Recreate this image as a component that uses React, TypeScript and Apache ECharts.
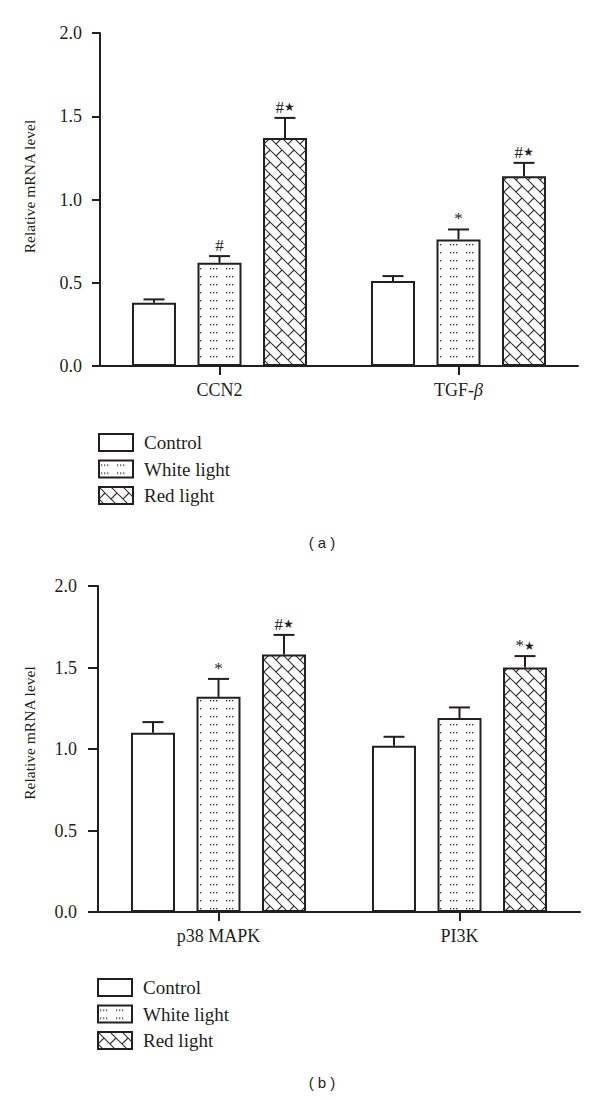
import React, { useEffect, useRef } from "react";
import * as echarts from "echarts";

// ---------- data ----------
const seriesNames = ["Control", "White light", "Red light"];

const categoriesA = ["CCN2", "TGF-β"];
const controlA = [0.38, 0.51];
const controlErrA = [0.02, 0.03];
const whiteA = [0.62, 0.76];
const whiteErrA = [0.04, 0.06];
const redA = [1.37, 1.14];
const redErrA = [0.12, 0.08];
const controlMarksA = ["", ""];
const whiteMarksA = ["#", "*"];
const redMarksA = ["#★", "#★"];

const categoriesB = ["p38 MAPK", "PI3K"];
const controlB = [1.1, 1.02];
const controlErrB = [0.065, 0.055];
const whiteB = [1.32, 1.19];
const whiteErrB = [0.11, 0.065];
const redB = [1.58, 1.5];
const redErrB = [0.12, 0.07];
const controlMarksB = ["", ""];
const whiteMarksB = ["*", ""];
const redMarksB = ["#★", "*★"];

const yTicks = [0, 0.5, 1.0, 1.5, 2.0];
const yAxisTitle = "Relative mRNA level";
const panelLabels = ["( a )", "( b )"];

// ---------- style ----------
const INK = "#231f20";
const SERIF = '"Liberation Serif", "Times New Roman", Times, serif';
const SANS = '"Liberation Sans", Arial, sans-serif';
const BAR_W = 44;
const BAR_GAP_PX = 21.5;
const CAP_W = 21;

function makeDots(): HTMLCanvasElement {
  const c = document.createElement("canvas");
  c.width = 16;
  c.height = 8;
  const g = c.getContext("2d")!;
  g.fillStyle = "#ffffff";
  g.fillRect(0, 0, 16, 8);
  g.fillStyle = "#222222";
  [2, 5, 8].forEach((x) => g.fillRect(x, 4, 1.3, 1.3));
  return c;
}

function makeBricks(): HTMLCanvasElement {
  const S = 48;
  const P = 12; // spacing of long lines in (x - y)
  const Q = 24; // spacing of short segments in (x + y)
  const c = document.createElement("canvas");
  c.width = S;
  c.height = S;
  const g = c.getContext("2d")!;
  g.fillStyle = "#ffffff";
  g.fillRect(0, 0, S, S);
  g.strokeStyle = "#333333";
  g.lineWidth = 1.1;
  g.beginPath();
  for (let k = -6; k <= 6; k++) {
    const cc = k * P;
    g.moveTo(cc - 24, -24);
    g.lineTo(cc + S + 24, S + 24);
  }
  for (let k = -6; k <= 5; k++) {
    const par = ((k % 2) + 2) % 2;
    for (let m = -2; m <= 7; m++) {
      const d = m * Q + par * (Q / 2);
      const a = k * P;
      const b = k * P + P;
      g.moveTo((d + a) / 2, (d - a) / 2);
      g.lineTo((d + b) / 2, (d - b) / 2);
    }
  }
  g.stroke();
  return c;
}

function richify(s: string): string {
  return s
    .split("")
    .map((ch) => (ch === "★" ? "{s|★}" : "{h|" + ch + "}"))
    .join("");
}

export default function App() {
  const ref = useRef<HTMLDivElement>(null);

  useEffect(() => {
    if (!ref.current) return;
    const chart = echarts.init(ref.current, undefined, { renderer: "svg" });

    const fills = [
      "#ffffff",
      { image: makeDots(), repeat: "repeat" },
      { image: makeBricks(), repeat: "repeat" },
    ];

    const panels = [
      {
        cats: categoriesA,
        vals: [controlA, whiteA, redA],
        errs: [controlErrA, whiteErrA, redErrA],
        marks: [controlMarksA, whiteMarksA, redMarksA],
        grid: { left: 100, top: 33, width: 478, height: 333 },
        tickLen: 8,
        labelMargin: 18,
        nameGap: 63,
        namePad: 26,
        legendTop: 433,
        legendLeft: 98,
      },
      {
        cats: categoriesB,
        vals: [controlB, whiteB, redB],
        errs: [controlErrB, whiteErrB, redErrB],
        marks: [controlMarksB, whiteMarksB, redMarksB],
        grid: { left: 98, top: 586, width: 482, height: 326 },
        tickLen: 10,
        labelMargin: 21,
        nameGap: 61,
        namePad: 32,
        legendTop: 978,
        legendLeft: 97,
      },
    ];

    const grids: any[] = [];
    const xAxes: any[] = [];
    const yAxes: any[] = [];
    const legends: any[] = [];
    const series: any[] = [];

    panels.forEach((p, gi) => {
      grids.push({ ...p.grid, containLabel: false });
      xAxes.push({
        type: "category",
        gridIndex: gi,
        data: p.cats,
        axisLine: { lineStyle: { color: INK, width: 2 } },
        axisTick: {
          show: true,
          alignWithLabel: true,
          length: 9,
          lineStyle: { color: INK, width: 2 },
        },
        axisLabel: {
          margin: 15,
          fontSize: 18,
          fontFamily: SERIF,
          color: INK,
          formatter: (v: string) => v.replace("β", "{i|β}"),
          rich: {
            i: { fontSize: 18, fontFamily: SERIF, fontStyle: "italic", color: INK },
          },
        },
        splitLine: { show: false },
      });
      yAxes.push({
        type: "value",
        gridIndex: gi,
        min: yTicks[0],
        max: yTicks[yTicks.length - 1],
        interval: yTicks[1] - yTicks[0],
        name: yAxisTitle,
        nameLocation: "middle",
        nameGap: p.nameGap,
        nameTextStyle: {
          fontSize: 15.5,
          fontFamily: SERIF,
          color: INK,
          padding: [0, 0, 0, p.namePad],
        },
        axisLine: { show: true, lineStyle: { color: INK, width: 2 } },
        axisTick: { show: true, length: p.tickLen, lineStyle: { color: INK, width: 2 } },
        axisLabel: {
          margin: p.labelMargin,
          fontSize: 18,
          fontFamily: SERIF,
          color: INK,
          formatter: (v: number) => v.toFixed(1),
        },
        splitLine: { show: false },
      });
      legends.push({
        orient: "vertical",
        left: p.legendLeft,
        top: p.legendTop,
        padding: 0,
        itemWidth: 34,
        itemHeight: 17,
        itemGap: 7.5,
        icon: "rect",
        selectedMode: false,
        data: seriesNames,
        textStyle: {
          fontSize: 19,
          fontFamily: SERIF,
          color: INK,
          lineHeight: 17,
          padding: [0, 0, 0, 6],
        },
      });
      seriesNames.forEach((name, si) => {
        series.push({
          type: "bar",
          name,
          xAxisIndex: gi,
          yAxisIndex: gi,
          data: p.vals[si],
          barWidth: BAR_W,
          barGap: ((BAR_GAP_PX / BAR_W) * 100).toFixed(1) + "%",
          itemStyle: { color: fills[si], borderColor: INK, borderWidth: 2 },
          emphasis: { disabled: true },
          z: 2,
        });
      });
      seriesNames.forEach((name, si) => {
        const offset = (si - 1) * (BAR_W + BAR_GAP_PX);
        const marks = p.marks[si];
        series.push({
          type: "custom",
          name: "err-" + name + "-" + gi,
          xAxisIndex: gi,
          yAxisIndex: gi,
          z: 3,
          silent: true,
          data: p.vals[si].map((v, i) => [i, v, p.errs[si][i]]),
          renderItem: (params: any, api: any) => {
            const ci = api.value(0);
            const v = api.value(1);
            const e = api.value(2);
            const base = api.coord([ci, v]);
            const top = api.coord([ci, v + e]);
            const x = base[0] + offset;
            const ls = { stroke: INK, lineWidth: 2 };
            const children: any[] = [
              { type: "line", shape: { x1: x, y1: base[1], x2: x, y2: top[1] }, style: ls },
              {
                type: "line",
                shape: { x1: x - CAP_W / 2, y1: top[1], x2: x + CAP_W / 2, y2: top[1] },
                style: ls,
              },
            ];
            const m = marks[params.dataIndex];
            if (m) {
              children.push({
                type: "text",
                x,
                y: top[1] - 2,
                style: {
                  text: richify(m),
                  align: "center",
                  verticalAlign: "bottom",
                  fill: INK,
                  rich: {
                    h: { fontSize: 17, fontFamily: SERIF, fill: INK },
                    s: { fontSize: 12, fontFamily: '"DejaVu Sans", sans-serif', fill: INK },
                  },
                },
              });
            }
            return { type: "group", children };
          },
        });
      });
    });

    chart.setOption({
      animation: false,
      backgroundColor: "#ffffff",
      textStyle: { fontFamily: SERIF },
      grid: grids,
      xAxis: xAxes,
      yAxis: yAxes,
      legend: legends,
      series,
      graphic: [
        {
          type: "text",
          x: 322,
          y: 542,
          style: {
            text: panelLabels[0],
            align: "center",
            verticalAlign: "middle",
            font: "15px " + SANS,
            fill: INK,
          },
        },
        {
          type: "text",
          x: 322,
          y: 1082,
          style: {
            text: panelLabels[1],
            align: "center",
            verticalAlign: "middle",
            font: "15px " + SANS,
            fill: INK,
          },
        },
      ],
    });

    return () => chart.dispose();
  }, []);

  return (
    <div
      ref={ref}
      style={{ position: "absolute", left: 0, top: 0, width: 600, height: 1100, background: "#fff" }}
    />
  );
}
